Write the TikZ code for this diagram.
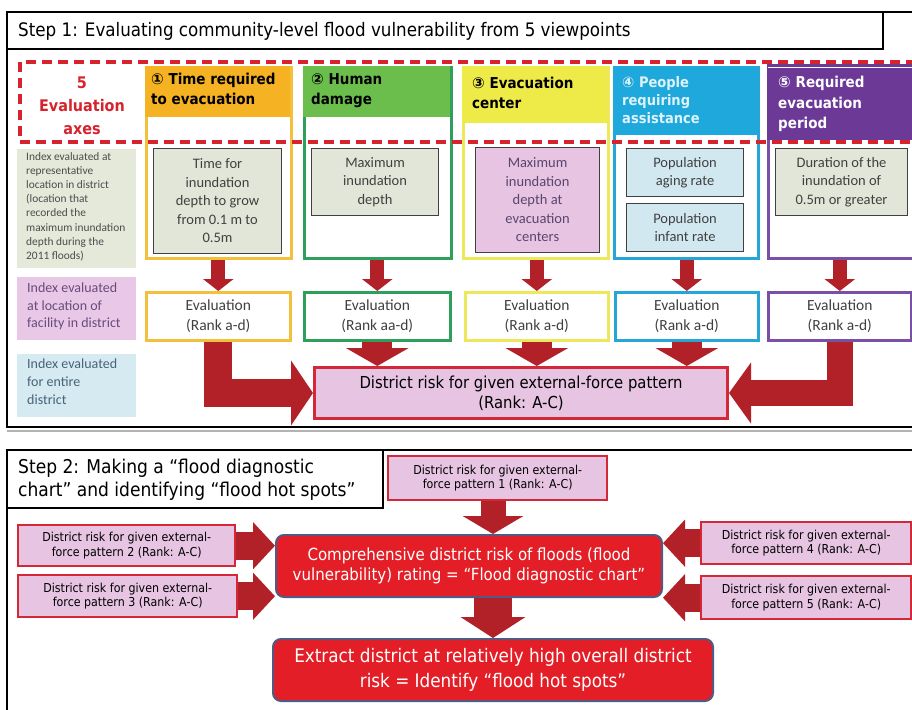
\documentclass[tikz,border=0pt]{standalone}
\usepackage{fontspec}
\setmainfont{Carlito}
\newfontfamily\goth{DejaVu Sans Condensed}
\newfontfamily\symf{DejaVu Sans}
\usetikzlibrary{arrows.meta,calc}
\definecolor{arw}{RGB}{178,32,40}
\definecolor{dashred}{RGB}{214,36,46}
\definecolor{pinkf}{RGB}{230,196,226}
\definecolor{pinkb}{RGB}{212,40,56}
\definecolor{brightred}{RGB}{228,30,38}
\definecolor{slate}{RGB}{80,90,130}
\definecolor{cA}{RGB}{245,178,35}
\definecolor{cAb}{RGB}{243,192,60}
\definecolor{cB}{RGB}{108,190,76}
\definecolor{cBb}{RGB}{46,160,92}
\definecolor{cC}{RGB}{238,234,72}
\definecolor{cCb}{RGB}{236,232,90}
\definecolor{cD}{RGB}{30,168,220}
\definecolor{cDb}{RGB}{38,166,214}
\definecolor{cE}{RGB}{108,58,150}
\definecolor{cEb}{RGB}{122,80,166}
\definecolor{graygreen}{RGB}{226,230,216}
\definecolor{lightblue}{RGB}{210,232,240}
\definecolor{legA}{RGB}{228,233,218}
\definecolor{legB}{RGB}{232,200,230}
\definecolor{legC}{RGB}{214,234,242}
\definecolor{txtgray}{RGB}{64,64,64}
\definecolor{legBt}{RGB}{105,75,125}
\definecolor{legCt}{RGB}{70,100,120}
\definecolor{hdrlight}{RGB}{222,242,250}
\begin{document}
\begin{tikzpicture}[x=1pt,y=-1pt,
  box/.style={inner sep=0pt, anchor=north west, align=center},
  frm/.style={draw=black, line width=2.6pt},
  colbox/.style={box, fill=white, line width=2.6pt},
  hdrfill/.style={box},
  hdr/.style={anchor=north west, inner sep=0pt, align=left, font=\goth\bfseries\fontsize{15}{20}\selectfont},
  innerbox/.style={box, draw=black!75, line width=1.1pt, fill=graygreen, text=txtgray, font=\fontsize{14.5}{18.5}\selectfont},
  evalbox/.style={box, fill=white, line width=2.6pt, text=txtgray, font=\fontsize{15.5}{20}\selectfont},
  patbox/.style={box, fill=pinkf, draw=pinkb, line width=2.4pt, font=\goth\fontsize{12.3}{14.5}\selectfont},
  redbox/.style={box, fill=brightred, draw=slate, line width=2pt, rounded corners=8pt, text=white},
  fat/.style n args={3}{draw=arw, line width=#1, line join=miter, -{Triangle[width=#2,length=#3]}}
]
\fill[white] (0,0) rectangle (912,709);
\useasboundingbox (0,0) rectangle (912,709);
\clip (0,0) rectangle (912,709);

% ---------------- Step 1 frame ----------------
\draw[frm] (7,12) rectangle (940,427);
\draw[frm] (7,12) rectangle (883,49);
\node[anchor=west, inner sep=0pt, font=\goth\fontsize{18.6}{20}\selectfont] (t1) at (18,31)
  {Step 1: Evaluating community-level flood vulnerability from 5 viewpoints};
\draw[gray!60, line width=1.2pt] (7,431) -- (912,431);

% 5 evaluation axes
\node[align=center, inner sep=0pt, text=dashred, font=\goth\bfseries\fontsize{16}{23}\selectfont] (axes) at (82,106)
  {5\\Evaluation\\axes};

% columns
\node[colbox, draw=cAb, minimum width=145pt, minimum height=191pt] (col1) at (145,66) {};
\node[hdrfill, fill=cA, minimum width=145pt, minimum height=51pt] (h1) at (145,66) {};
\node[hdr] (ht1) at (151,73) {{\symf ①} Time required\\to evacuation};

\node[colbox, draw=cBb, minimum width=147pt, minimum height=191pt] (col2) at (303,66) {};
\node[hdrfill, fill=cB, minimum width=147pt, minimum height=51pt] (h2) at (303,66) {};
\node[hdr] (ht2) at (311,73) {{\symf ②} Human\\damage};

\node[colbox, draw=cCb, minimum width=145pt, minimum height=191pt] (col3) at (462,66) {};
\node[hdrfill, fill=cC, minimum width=145pt, minimum height=57pt] (h3) at (462,66) {};
\node[hdr] (ht3) at (472,77) {{\symf ③} Evacuation\\center};

\node[colbox, draw=cDb, minimum width=144pt, minimum height=191pt] (col4) at (613,66) {};
\node[hdrfill, fill=cD, minimum width=144pt, minimum height=69pt] (h4) at (613,66) {};
\node[hdr, text=hdrlight, font=\goth\bfseries\fontsize{14.5}{18}\selectfont] (ht4) at (622,76) {{\symf ④} People\\requiring\\assistance};

\node[colbox, draw=cEb, minimum width=150pt, minimum height=193pt] (col5) at (767,64) {};
\node[hdrfill, fill=cE, minimum width=150pt, minimum height=76pt] (h5) at (767,64) {};
\draw[white, line width=1.2pt] (768,67.5) -- (912,67.5);
\node[hdr, text=white, font=\goth\bfseries\fontsize{15}{20.5}\selectfont] (ht5) at (778,76) {{\symf ⑤} Required\\evacuation\\period};

% dashed rectangle
\draw[dashred, line width=3.5pt, dash pattern=on 10pt off 6pt] (20,62) rectangle (940,142);

% inner boxes
\node[innerbox, minimum width=128pt, minimum height=105pt] (i1) at (153,148)
  {Time for\\inundation\\depth to grow\\from 0.1 m to\\0.5m};
\node[innerbox, minimum width=127pt, minimum height=67pt] (i2) at (311,148)
  {Maximum\\inundation\\depth};
\node[innerbox, fill=pinkf, text={rgb,255:red,90;green,70;blue,110}, minimum width=124pt, minimum height=105pt] (i3) at (475,147)
  {Maximum\\inundation\\depth at\\evacuation\\centers};
\node[innerbox, fill=lightblue, minimum width=117pt, minimum height=48pt] (i4a) at (626,148)
  {Population\\aging rate};
\node[innerbox, fill=lightblue, minimum width=117pt, minimum height=48pt] (i4b) at (626,203)
  {Population\\infant rate};
\node[innerbox, minimum width=132pt, minimum height=67pt] (i5) at (775,148)
  {Duration of the\\inundation of\\0.5m or greater};

% legend boxes
\node[box, fill=legA, minimum width=119pt, minimum height=119pt] (la) at (17,149) {};
\node[anchor=north west, inner sep=0pt, align=left, text=black!70, font=\fontsize{11.4}{14.2}\selectfont] (lat) at (26,152)
  {Index evaluated at\\representative\\location in district\\(location that\\recorded the\\maximum inundation\\depth during the\\2011 floods)};
\node[box, fill=legB, minimum width=119pt, minimum height=63pt] (lb) at (17,277) {};
\node[anchor=north west, inner sep=0pt, align=left, text=legBt, font=\fontsize{14}{17.5}\selectfont] (lbt) at (27,283)
  {Index evaluated\\at location of\\facility in district};
\node[box, fill=legC, minimum width=119pt, minimum height=63pt] (lc) at (17,354) {};
\node[anchor=north west, inner sep=0pt, align=left, text=legCt, font=\fontsize{14}{18}\selectfont] (lct) at (27,359)
  {Index evaluated\\for entire\\district};

% evaluation boxes
\node[evalbox, draw=cAb, minimum width=144pt, minimum height=48pt] (e1) at (145,291) {Evaluation\\(Rank a-d)};
\node[evalbox, draw=cBb, minimum width=146pt, minimum height=48pt] (e2) at (303,291) {Evaluation\\(Rank aa-d)};
\node[evalbox, draw=cCb, minimum width=143pt, minimum height=48pt] (e3) at (464,291) {Evaluation\\(Rank a-d)};
\node[evalbox, draw=cDb, minimum width=143pt, minimum height=48pt] (e4) at (614,291) {Evaluation\\(Rank a-d)};
\node[evalbox, draw=cEb, minimum width=143pt, minimum height=48pt] (e5) at (767,291) {Evaluation\\(Rank a-d)};

% district risk box
\node[box, fill=pinkf, draw=pinkb, line width=3pt, minimum width=413pt, minimum height=51pt,
  font=\goth\fontsize{16.5}{20}\selectfont] (risk) at (313,366)
  {District risk for given external-force pattern\\(Rank: A-C)};

% arrows step 1
\draw[fat={14pt}{30pt}{12pt}] (e1.north |- col1.south) -- (e1.north);
\draw[fat={14pt}{30pt}{12pt}] (e2.north |- col2.south) -- (e2.north);
\draw[fat={14pt}{30pt}{12pt}] (e3.north |- col3.south) -- (e3.north);
\draw[fat={14pt}{30pt}{12pt}] (e4.north |- col4.south) -- (e4.north);
\draw[fat={14pt}{30pt}{12pt}] (e5.north |- col5.south) -- (e5.north);
\draw[fat={30pt}{62pt}{18pt}] (e2.south) -- (e2.south |- risk.north);
\draw[fat={30pt}{62pt}{18pt}] (e3.south) -- (e3.south |- risk.north);
\draw[fat={30pt}{62pt}{18pt}] (e4.south) -- (e4.south |- risk.north);
\draw[fat={28pt}{64pt}{22pt}] (e1.south) |- (risk.west);
\draw[fat={26pt}{60pt}{22pt}] (e5.south) |- (risk.east);

% ---------------- Step 2 frame ----------------
\draw[frm] (7,450) rectangle (940,760);
\draw[frm] (7,450) rectangle (383,508);
\node[anchor=north west, inner sep=0pt, align=left, font=\goth\fontsize{19}{23}\selectfont] (t2) at (18,459)
  {Step 2: Making a “flood diagnostic\\chart” and identifying “flood hot spots”};

\node[patbox, minimum width=219pt, minimum height=44pt] (p1) at (387,455)
  {District risk for given external-\\force pattern 1 (Rank: A-C)};
\node[patbox, minimum width=217pt, minimum height=41pt] (p2) at (17,524)
  {District risk for given external-\\force pattern 2 (Rank: A-C)};
\node[patbox, minimum width=219pt, minimum height=42pt] (p3) at (17,574)
  {District risk for given external-\\force pattern 3 (Rank: A-C)};
\node[patbox, minimum width=210pt, minimum height=42pt] (p4) at (700,521)
  {District risk for given external-\\force pattern 4 (Rank: A-C)};
\node[patbox, minimum width=210pt, minimum height=43pt] (p5) at (700,575)
  {District risk for given external-\\force pattern 5 (Rank: A-C)};

\node[redbox, minimum width=386pt, minimum height=62pt, font=\goth\fontsize{16.7}{20}\selectfont] (comp) at (275,534)
  {Comprehensive district risk of floods (flood\\vulnerability) rating = “Flood diagnostic chart”};
\node[redbox, minimum width=440pt, minimum height=62pt, font=\goth\fontsize{18.7}{25}\selectfont] (ex) at (272,638)
  {Extract district at relatively high overall district\\risk = Identify “flood hot spots”};

% arrows step 2
\draw[fat={25pt}{60pt}{18pt}] (ex.north |- p1.south) -- (ex.north |- comp.north);
\draw[fat={38pt}{64pt}{21pt}] (ex.north |- comp.south) -- (ex.north);
\draw[fat={28pt}{46pt}{22pt}] (p2.east) -- (comp.west |- p2.east);
\draw[fat={28pt}{46pt}{22pt}] (p3.east) -- (comp.west |- p3.east);
\draw[fat={28pt}{46pt}{22pt}] (p4.west) -- (comp.east |- p4.west);
\draw[fat={28pt}{46pt}{22pt}] (p5.west) -- (comp.east |- p5.west);
\end{tikzpicture}
\end{document}
